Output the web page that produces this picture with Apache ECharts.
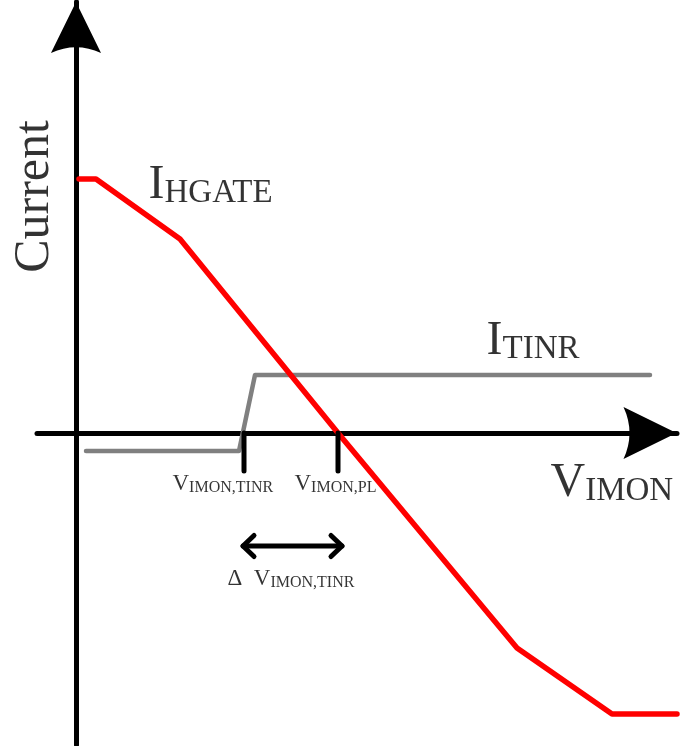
<!DOCTYPE html>
<html>
<head>
<meta charset="utf-8">
<script src="https://cdn.jsdelivr.net/npm/echarts@6/dist/echarts.min.js"></script>
<style>
  html, body { margin: 0; padding: 0; background: #fff; }
  .main { width: 686px; height: 746px; }
</style>
</head>
<body>
<div id="main" class="main"></div>
<script>
// 曲线数据 (x: V_IMON, y: current, arbitrary units)
var hgateCurve = [[0.3, 25.4], [2.0, 25.4], [10.4, 19.4], [26.2, 0], [44.1, -21.5], [53.6, -28.1], [60.1, -28.1]];
var tinrCurve = [[1.0, -1.8], [16.3, -1.8], [17.9, 5.8], [57.4, 5.8]];
var markerX = [16.8, 26.2];      // V_IMON,TINR / V_IMON,PL
var markerBottom = -3.8;
var deltaRange = [16.7, 26.6];   // Δ V_IMON,TINR
var deltaY = -11.3;
var headSize = [1.1, 1.05];

// labels
var labelMain = ['I', 'I', 'V', 'V', 'V', 'Δ  V'];
var labelSub = ['HGATE', 'TINR', 'IMON', 'IMON,TINR', 'IMON,PL', 'IMON,TINR'];
var labelX = [7.3, 41.1, 47.5, 9.7, 21.9, 15.2];
var labelY = [22.3, 6.7, -7.5, -6.3, -6.3, -15.8];
var labelKind = ['big', 'big', 'big', 'small', 'small', 'small'];
var axisTitle = 'Current';
var axisTitlePos = [-4.05, 23.6];

var chartDom = document.getElementById('main');
var myChart = echarts.init(chartDom);
var serif = 'Liberation Serif';
var arrowPath = 'path://M26,0 L52,53 Q26,41 0,53 Z';

var richStyles = {
  big: {
    m: { fontSize: 48, lineHeight: 48, fontFamily: serif, color: '#000', verticalAlign: 'bottom' },
    s: { fontSize: 33, lineHeight: 25, fontFamily: serif, color: '#000', verticalAlign: 'bottom' }
  },
  small: {
    m: { fontSize: 23, lineHeight: 23, fontFamily: serif, color: '#000', verticalAlign: 'bottom' },
    s: { fontSize: 16, lineHeight: 7, fontFamily: serif, color: '#000', verticalAlign: 'bottom' }
  }
};

var labelData = [];
for (var i = 0; i < labelMain.length; i++) {
  labelData.push({
    value: [labelX[i], labelY[i]],
    label: {
      show: true,
      position: [0, 0],
      align: 'left',
      verticalAlign: 'bottom',
      color: '#000',
      formatter: '{m|' + labelMain[i] + '}{s|' + labelSub[i] + '}',
      rich: richStyles[labelKind[i]]
    }
  });
}
labelData.push({
  value: axisTitlePos,
  label: {
    show: true,
    position: [0, 0],
    align: 'center',
    verticalAlign: 'middle',
    rotate: 90,
    formatter: axisTitle,
    fontSize: 50,
    fontFamily: serif,
    color: '#000'
  }
});

// black segments: markers and the double arrow
var segments = [];
markerX.forEach(function (x) {
  segments.push([[x, 0], [x, markerBottom]]);
});
segments.push([[deltaRange[0], deltaY], [deltaRange[1], deltaY]]);
segments.push([[deltaRange[0] + headSize[0], deltaY + headSize[1]], [deltaRange[0], deltaY], [deltaRange[0] + headSize[0], deltaY - headSize[1]]]);
segments.push([[deltaRange[1] - headSize[0], deltaY + headSize[1]], [deltaRange[1], deltaY], [deltaRange[1] - headSize[0], deltaY - headSize[1]]]);

function lineSeries(data, color, width) {
  return {
    type: 'line',
    data: data,
    symbol: 'none',
    clip: false,
    silent: true,
    lineStyle: { color: color, width: width, cap: 'round', join: 'round' }
  };
}

var series = [lineSeries(tinrCurve, '#808080', 4.5), lineSeries(hgateCurve, '#ff0000', 5.5)];
segments.forEach(function (seg) {
  series.push(lineSeries(seg, '#000', 5));
});
series.push({
  type: 'scatter',
  data: labelData,
  symbolSize: 1,
  clip: false,
  silent: true,
  itemStyle: { color: 'rgba(0,0,0,0)' }
});

var option = {
  animation: false,
  grid: { left: 37, right: 9, top: 2, bottom: 1 },
  xAxis: {
    type: 'value',
    min: -3.9,
    max: 60.1,
    axisLine: {
      onZero: true,
      symbol: ['none', arrowPath],
      symbolSize: [52, 54],
      symbolOffset: [0, -27],
      lineStyle: { color: '#000', width: 5 }
    },
    axisTick: { show: false },
    axisLabel: { show: false },
    splitLine: { show: false }
  },
  yAxis: {
    type: 'value',
    min: -31.2,
    max: 43.1,
    axisLine: {
      onZero: true,
      symbol: ['none', arrowPath],
      symbolSize: [52, 51],
      symbolOffset: [0, -25.5],
      lineStyle: { color: '#000', width: 5 }
    },
    axisTick: { show: false },
    axisLabel: { show: false },
    splitLine: { show: false }
  },
  series: series
};

myChart.setOption(option);
window.onresize = function () {
  myChart.resize();
};
</script>
</body>
</html>
